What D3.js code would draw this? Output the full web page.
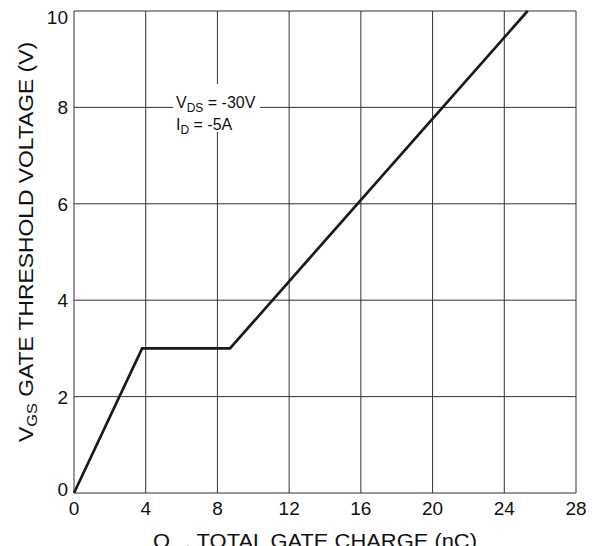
<!DOCTYPE html>
<html>
<head>
<meta charset="utf-8">
<script src="https://cdn.jsdelivr.net/npm/d3@7"></script>
<style>
  body { margin: 0; background: #fff; }
  text { font-family: "Liberation Sans", Arial, sans-serif; fill: #111; }
</style>
</head>
<body>
<div id="chart"></div>
<script>
// gate charge curve
const qValues = [0, 3.8, 8.7, 25.3];
const vValues = [0, 3, 3, 10];
const xTicks = [0, 4, 8, 12, 16, 20, 24, 28];
const yTicks = [0, 2, 4, 6, 8, 10];

const width = 596, height = 546;
const margin = {left: 74, right: 20, top: 11, bottom: 53};

const svg = d3.select("#chart").append("svg")
    .attr("width", width)
    .attr("height", height);

const x = d3.scaleLinear().domain([0, 28]).range([margin.left, width - margin.right]);
const y = d3.scaleLinear().domain([0, 10]).range([height - margin.bottom, margin.top]);

// grid
svg.append("g").selectAll("line")
    .data(xTicks)
    .enter().append("line")
    .attr("x1", d => x(d)).attr("x2", d => x(d))
    .attr("y1", y(0)).attr("y2", y(10))
    .attr("stroke", "#333").attr("stroke-width", 1);

svg.append("g").selectAll("line")
    .data(yTicks)
    .enter().append("line")
    .attr("x1", x(0)).attr("x2", x(28))
    .attr("y1", d => y(d)).attr("y2", d => y(d))
    .attr("stroke", "#333").attr("stroke-width", 1);

// annotation box covers the grid
svg.append("rect")
    .attr("x", 173).attr("y", 84)
    .attr("width", 87).attr("height", 48)
    .attr("fill", "#fff");

const note = svg.append("g").style("font-size", "16px");
const t1 = note.append("text").attr("x", 176).attr("y", 108);
t1.append("tspan").text("V");
t1.append("tspan").attr("dy", 4).style("font-size", "12px").text("DS");
t1.append("tspan").attr("dy", -4).text(" =  -30V");
const t2 = note.append("text").attr("x", 176).attr("y", 130);
t2.append("tspan").text("I");
t2.append("tspan").attr("dy", 4).style("font-size", "12px").text("D");
t2.append("tspan").attr("dy", -4).text("  =  -5A");

// curve
const line = d3.line()
    .x((d, i) => x(qValues[i]))
    .y(d => y(d));

svg.append("path")
    .datum(vValues)
    .attr("d", line)
    .attr("fill", "none")
    .attr("stroke", "#1a1a1a")
    .attr("stroke-width", 2.7)
    .attr("stroke-linejoin", "miter");

// tick labels
svg.append("g").selectAll("text")
    .data(xTicks)
    .enter().append("text")
    .attr("x", d => x(d))
    .attr("y", y(0) + 22)
    .attr("text-anchor", "middle")
    .style("font-size", "19px")
    .text(d => d);

svg.append("g").selectAll("text")
    .data(yTicks)
    .enter().append("text")
    .attr("x", x(0) - 6)
    .attr("y", d => y(d) + (d === 10 ? 13 : d === 0 ? 3 : 7))
    .attr("text-anchor", "end")
    .style("font-size", "19px")
    .text(d => d);

// axis titles
const yt = svg.append("text")
    .attr("transform", "translate(33,242) rotate(-90)")
    .attr("text-anchor", "middle")
    .attr("textLength", 400)
    .attr("lengthAdjust", "spacingAndGlyphs")
    .style("font-size", "21px");
yt.append("tspan").text("V");
yt.append("tspan").attr("dy", 4).style("font-size", "15px").text("GS");
yt.append("tspan").attr("dy", -4).text(" GATE THRESHOLD VOLTAGE  (V)");

const xt = svg.append("text")
    .attr("x", 315)
    .attr("y", 548)
    .attr("text-anchor", "middle")
    .attr("textLength", 324)
    .attr("lengthAdjust", "spacingAndGlyphs")
    .style("font-size", "21px");
xt.append("tspan").text("Q");
xt.append("tspan").attr("dy", 7).style("font-size", "15px").text("g");
xt.append("tspan").attr("dy", -7).text(" , TOTAL GATE CHARGE (nC)");
</script>
</body>
</html>
